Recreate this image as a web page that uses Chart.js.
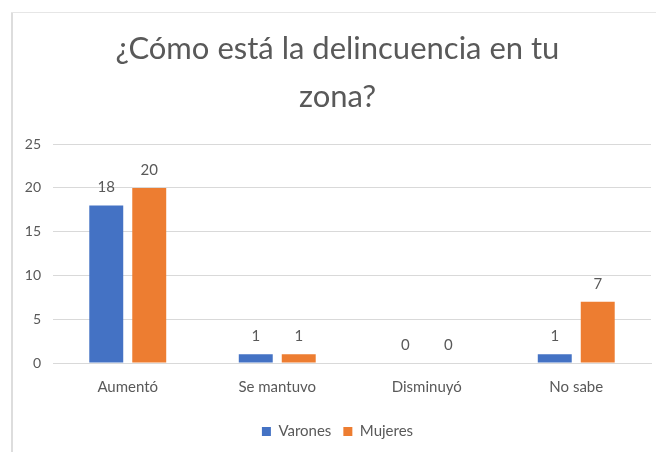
<!DOCTYPE html>
<html>
<head>
<meta charset="utf-8">
<script src="https://cdn.jsdelivr.net/npm/chart.js@4"></script>
<style>
  html, body { margin: 0; padding: 0; background: #fff; }
  #chart { display: block; }
</style>
</head>
<body>
<canvas id="chart" width="656" height="452"></canvas>
<script>
// data
const categories = ["Aumentó", "Se mantuvo", "Disminuyó", "No sabe"];
const varones = [18, 1, 0, 1];
const mujeres = [20, 1, 0, 7];
const yTicks = [0, 5, 10, 15, 20, 25];

const textColor = "#595959";

// frame lines (left + top) like the pasted chart
const framePlugin = {
    id: "frame",
    beforeDraw(chart) {
        const ctx = chart.ctx;
        ctx.save();
        ctx.fillStyle = "#ffffff";
        ctx.fillRect(0, 0, chart.width, chart.height);
        ctx.fillStyle = "#dddddd";
        ctx.fillRect(11, 12, 2, chart.height - 12);
        ctx.fillStyle = "#e6e6e6";
        ctx.fillRect(11, 12, chart.width - 11, 1);
        ctx.restore();
    }
};

// value labels above bars
const valueLabels = {
    id: "valueLabels",
    afterDatasetsDraw(chart) {
        const ctx = chart.ctx;
        ctx.save();
        ctx.font = "15px Lato";
        ctx.fillStyle = textColor;
        ctx.textAlign = "center";
        ctx.textBaseline = "middle";
        chart.data.datasets.forEach((ds, i) => {
            chart.getDatasetMeta(i).data.forEach((bar, j) => {
                ctx.fillText(String(ds.data[j]), bar.x, bar.y - 18);
            });
        });
        ctx.restore();
    }
};

new Chart(document.getElementById("chart"), {
    type: "bar",
    data: {
        labels: categories,
        datasets: [
            { label: "Varones", data: varones, backgroundColor: "#4472C4" },
            { label: "Mujeres", data: mujeres, backgroundColor: "#ED7D31" }
        ]
    },
    options: {
        responsive: false,
        animation: false,
        categoryPercentage: 0.575,
        barPercentage: 0.79,
        layout: { padding: { left: 24, right: 5, top: 12, bottom: 3 } },
        plugins: {
            title: {
                display: true,
                text: ["¿Cómo está la delincuencia en tu", "zona?"],
                color: textColor,
                font: { family: "Lato", size: 31, weight: "normal", lineHeight: 1.55 },
                padding: { top: 13, bottom: 23 }
            },
            legend: {
                position: "bottom",
                labels: {
                    color: textColor,
                    font: { family: "Lato", size: 15 },
                    boxWidth: 9,
                    boxHeight: 9,
                    padding: 12
                }
            },
            tooltip: { enabled: false }
        },
        scales: {
            x: {
                grid: { display: false },
                border: { color: "#d9d9d9" },
                afterFit(scale) { scale.height += 9; },
                ticks: { color: textColor, font: { family: "Lato", size: 15 }, padding: 7 }
            },
            y: {
                min: 0,
                max: 25,
                afterFit(scale) { scale.width = 29; },
                afterBuildTicks(scale) { scale.ticks = yTicks.map(v => ({ value: v })); },
                grid: { color: "#d9d9d9", drawTicks: false },
                border: { display: false },
                ticks: { color: textColor, font: { family: "Lato", size: 14 }, padding: 12 }
            }
        }
    },
    plugins: [framePlugin, valueLabels]
});
</script>
</body>
</html>
